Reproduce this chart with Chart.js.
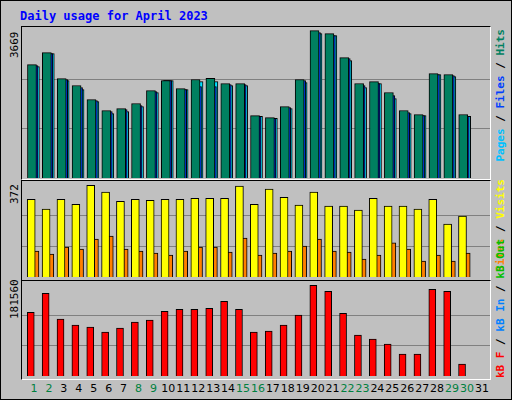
<!DOCTYPE html>
<html lang="en">
<head>
<meta charset="UTF-8">
<title>Daily usage for April 2023</title>
<script src="https://cdn.jsdelivr.net/npm/chart.js"></script>
<style>
  body { margin: 0; }
  #wrap { position: relative; width: 510px; height: 398px; background: #c0c0c0; border: 1px solid #000; overflow: hidden; font-family: "DejaVu Sans Mono", monospace; }
  .box { position: absolute; left: 20px; width: 470px; border-top: 1px solid #000; border-left: 1px solid #000; border-right: 1px solid #fff; border-bottom: 1px solid #fff; box-sizing: border-box; }
  canvas { position: absolute; }
  .title { position: absolute; left: 19px; top: 8px; color: #0000ff; font-weight: bold; font-size: 12px; }
  .vl { position: absolute; transform-origin: left top; transform: rotate(-90deg); white-space: nowrap; font-size: 11px; }
  .day { position: absolute; top: 381px; width: 16px; margin-left: -8px; text-align: center; font-family: "DejaVu Sans", sans-serif; font-size: 11px; }
</style>
</head>
<body>
<div id="wrap">
  <div class="title">Daily usage for April 2023</div>
  <div class="box" style="top:25px;height:154px"></div>
  <div class="box" style="top:179px;height:101px"></div>
  <div class="box" style="top:279px;height:100px"></div>
  <canvas id="top" width="468" height="151" style="left:21px;top:26px"></canvas>
  <canvas id="mid" width="468" height="95" style="left:21px;top:181px"></canvas>
  <canvas id="bot" width="468" height="94" style="left:21px;top:281px"></canvas>
  <div class="vl" style="left:7px;top:57px">3669</div>
  <div class="vl" style="left:7px;top:203px">372</div>
  <div class="vl" style="left:7px;top:318px">181560</div>
  <div id="labels"></div>
</div>
<script>
  const days = [1,2,3,4,5,6,7,8,9,10,11,12,13,14,15,16,17,18,19,20,21,22,23,24,25,26,27,28,29,30,31];
  const weekend = [1,2,8,9,15,16,22,23,29,30];
  const hits  = [2818,3115,2471,2297,1950,1677,1727,1851,2173,2421,2223,2446,2479,2347,2347,1553,1504,1777,2446,3661,3586,2991,2347,2396,2124,1677,1578,2595,2570,1578,0];
  const files = [2793,3090,2446,2248,1925,1652,1702,1802,2148,2421,2198,2272,2272,2322,2322,1529,1480,1752,2421,3611,3537,2966,2298,2347,2050,1628,1553,2570,2545,1529,0];
  const pages = [2768,3090,2421,2198,1901,1603,1653,1777,2124,2421,2198,2396,2396,2297,2297,1529,1480,1727,2372,3586,3537,2917,2248,2347,1975,1603,1553,2570,2520,1529,0];
  const visits = [315,275,315,295,372,344,307,315,311,315,315,319,319,319,368,295,356,323,291,344,287,287,271,319,287,287,275,315,214,247,0];
  const sites  = [105,93,121,113,154,166,113,105,97,89,105,121,121,101,158,89,97,105,125,154,105,101,73,89,138,113,65,89,65,97,0];
  const kbytes = [127690,165590,113730,101760,97760,87790,95770,107740,111730,129690,133680,133680,135670,149640,133680,87790,89780,101760,121700,181560,169590,125690,81800,73820,63840,43890,43890,173580,169590,23940,0];

  function pts(arr, off) {
    return arr.map((v, i) => ({ x: days[i] + off, y: v }));
  }
  function bar(arr, off, color, w) {
    return { data: pts(arr, off), backgroundColor: color, borderColor: '#000', borderWidth: 1,
             borderSkipped: 'bottom', barThickness: w, grouped: false };
  }
  function panel(id, sets, max, grid) {
    new Chart(document.getElementById(id), {
      type: 'bar',
      data: { datasets: sets },
      options: {
        responsive: false, animation: false,
        layout: { padding: 0 },
        plugins: { legend: { display: false }, tooltip: { enabled: false } },
        scales: {
          x: { type: 'linear', min: 0.13, max: 31.6, display: false, offset: false },
          y: {
            min: 0, max: max,
            ticks: { display: false },
            grid: { color: '#808080', drawTicks: false },
            border: { display: false },
            afterBuildTicks: s => { s.ticks = grid.map(v => ({ value: v })); }
          }
        }
      }
    });
  }
  panel('top', [bar(hits, -0.2, '#008060', 9), bar(files, -0.1, '#0040ff', 9), bar(pages, 0, '#00e0ff', 9)], 3751, [1223, 2446]);
  panel('mid', [bar(visits, -0.25, '#ffff00', 8), bar(sites, 0, '#ff8000', 8)], 385, [124, 248]);
  panel('bot', [bar(kbytes, -0.28, '#ff0000', 7)], 188170, [60520, 121040]);

  // day labels
  const lab = document.getElementById('labels');
  days.forEach(d => {
    const s = document.createElement('div');
    s.className = 'day';
    s.style.left = (33 + (d - 1) * 14.93) + 'px';
    s.style.color = weekend.includes(d) ? '#008040' : '#000';
    s.textContent = d;
    lab.appendChild(s);
  });

  // right side legends, read bottom to top
  const legends = [
    { top: 28, h: 148, parts: [['Pages', '#00c0ff'], [' / ', '#000'], ['Files', '#0040ff'], [' / ', '#000'], ['Hits', '#008060']] },
    { top: 178, h: 98, parts: [['Sites', '#ff8000'], [' / ', '#000'], ['Visits', '#ffff00']] },
    { top: 280, h: 97, parts: [['kB F', '#ff0000'], [' / ', '#000'], ['kB In', '#0080ff'], [' / ', '#000'], ['kB Out', '#00c000']] }
  ];
  legends.forEach(l => {
    const d = document.createElement('div');
    d.className = 'vl';
    d.style.fontWeight = 'bold';
    d.style.left = '493px';
    d.style.top = (l.top + l.h) + 'px';
    d.style.width = l.h + 'px';
    d.style.textAlign = 'right';
    l.parts.forEach(p => {
      const s = document.createElement('span');
      s.textContent = p[0];
      s.style.color = p[1];
      d.appendChild(s);
    });
    document.getElementById('wrap').appendChild(d);
  });
</script>
</body>
</html>
